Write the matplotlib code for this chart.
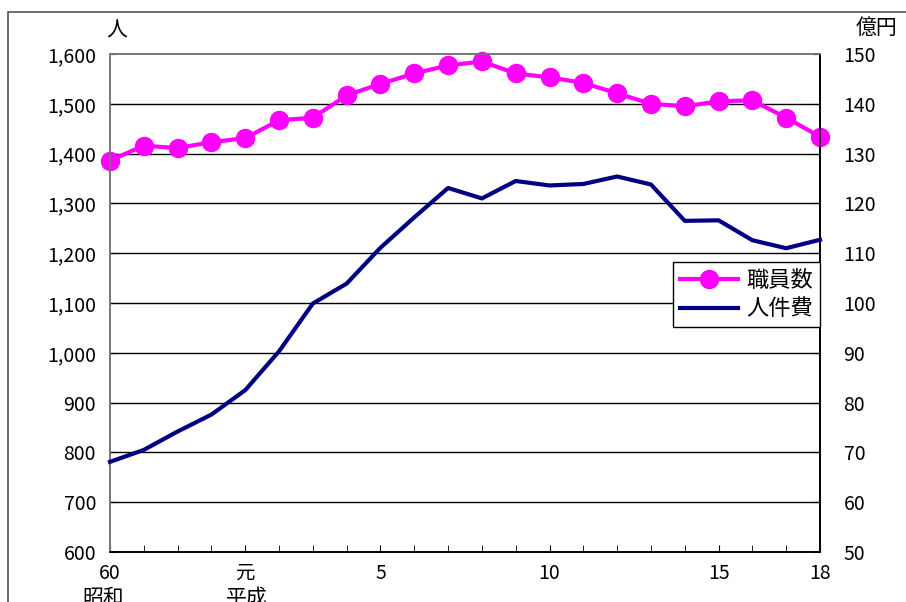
import matplotlib
matplotlib.use("Agg")
import matplotlib.pyplot as plt
from matplotlib.patches import Rectangle
from matplotlib.ticker import FuncFormatter, MultipleLocator

plt.rcParams['font.family'] = ['Noto Sans CJK JP', 'DejaVu Sans']

# years: 昭和60 .. 平成18
years = list(range(22))
tick_pos = [0, 4, 8, 13, 18, 21]
tick_labels = ["60", "元", "5", "10", "15", "18"]

# 職員数 (人)
staff = [1386, 1416, 1411, 1423, 1431, 1467, 1472, 1517, 1540, 1561, 1577, 1585,
         1561, 1553, 1542, 1521, 1500, 1495, 1505, 1507, 1472, 1434]
# 人件費 (億円)
cost = [68.1, 70.5, 74.2, 77.6, 82.5, 90.3, 99.9, 103.9, 111.1, 117.2, 123.1, 121.0,
        124.5, 123.6, 123.9, 125.4, 123.8, 116.5, 116.6, 112.6, 111.0, 112.7]

fig = plt.figure(figsize=(9.06, 6.02), dpi=100)
ax = fig.add_axes([110/906, 50/602, 710/906, 498/602])
ax2 = ax.twinx()

# outer frame
fig.patches.append(Rectangle((8/906, -0.2), 1.2, 1.2 - 12/602, transform=fig.transFigure,
                             fill=False, edgecolor="#555555", lw=1.2))

for y in range(700, 1600, 100):
    ax.axhline(y, color="black", lw=1.0, zorder=1)

l1, = ax.plot(years, staff, color="#FF00FF", lw=3, marker="o", markersize=13,
              zorder=3, clip_on=False)
l2, = ax2.plot(years, cost, color="#000080", lw=3, zorder=3, clip_on=False)

ax.set_xlim(0, 21)
ax.set_ylim(600, 1600)
ax2.set_ylim(50, 150)
ax.yaxis.set_major_locator(MultipleLocator(100))
ax2.yaxis.set_major_locator(MultipleLocator(10))
ax.yaxis.set_major_formatter(FuncFormatter(lambda v, p: "{:,.0f}".format(v)))

ax.set_xticks(tick_pos)
ax.set_xticklabels(tick_labels)
ax.set_xticks(years, minor=True)

ax.tick_params(axis="both", which="both", direction="in", length=5, labelsize=14,
               color="black")
ax.tick_params(axis="x", pad=8)
ax.tick_params(axis="y", pad=10)
ax2.tick_params(axis="y", direction="in", length=5, labelsize=14, pad=17)

for sp in ["top", "left"]:
    ax.spines[sp].set_color("#777777")
    ax2.spines[sp].set_color("#777777")
ax2.spines["right"].set_color("black")
ax2.spines["bottom"].set_color("black")
for a in (ax, ax2):
    for sp in a.spines.values():
        sp.set_linewidth(1.2)

ax.text(-0.1, 1626, "人", ha="left", va="bottom", fontsize=15)
ax2.text(1.05, 1.03, "億円", transform=ax.transAxes, ha="left", va="bottom", fontsize=15)
ax.text(-0.2, -0.07, "昭和", transform=ax.get_xaxis_transform(),
        ha="center", va="top", fontsize=15)
ax.text(4.05, -0.07, "平成", transform=ax.get_xaxis_transform(),
        ha="center", va="top", fontsize=15)

leg = ax2.legend([l1, l2], ["職員数", "人件費"], loc="upper right",
                 bbox_to_anchor=(1.0, 0.582), fontsize=16, frameon=True,
                 fancybox=False, edgecolor="black", framealpha=1, borderaxespad=0,
                 handlelength=2.6, handletextpad=0.4, labelspacing=0.25,
                 borderpad=0.3)
leg.get_frame().set_linewidth(1.0)

fig.savefig("out.png", dpi=100)
